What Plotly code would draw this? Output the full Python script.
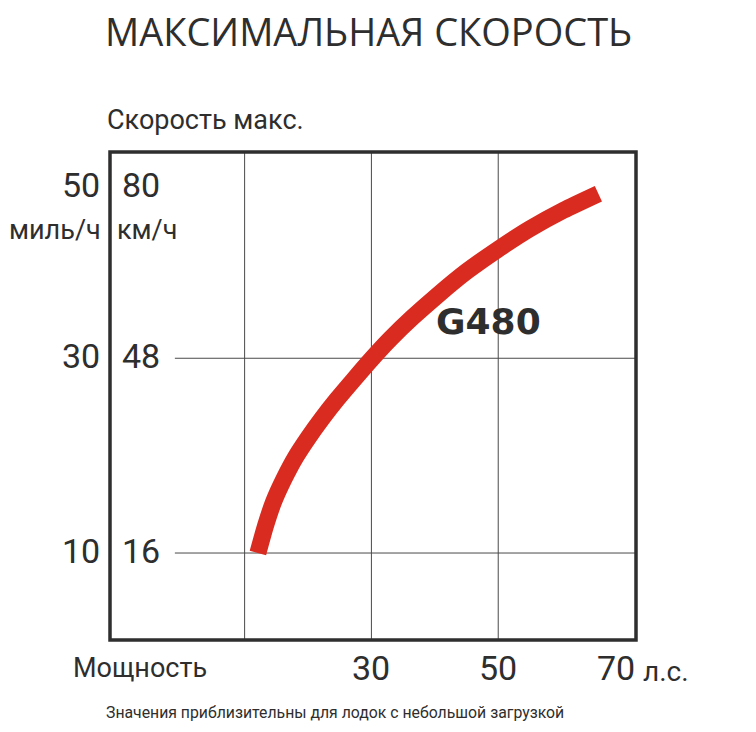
import plotly.graph_objects as go

# ---- data ----
hp = [12.1, 13.3, 14.6, 16.2, 18.0, 20.0, 22.2, 24.6, 27.2, 30.0, 33.0, 36.5, 40.5, 45.0, 50.0, 55.0, 60.3, 65.8]
mph = [10.0, 12.8, 15.3, 17.6, 19.8, 21.8, 23.8, 25.8, 27.8, 29.9, 32.0, 34.2, 36.5, 38.9, 41.2, 43.3, 45.2, 46.9]
series_name = "G480"
mph_ticks = [50, 30, 10]
kmh_ticks = ["80", "48", "16"]
hp_ticks = [30, 50, 70]
hp_grid = [10, 30, 50]
title = "МАКСИМАЛЬНАЯ СКОРОСТЬ"
y_title = "Скорость макс."
mph_unit = "миль/ч"
kmh_unit = "км/ч"
x_title = "Мощность"
x_unit = "л.с."
note = "Значения приблизительны для лодок с небольшой загрузкой"

W, H = 756, 732
BODY = 8  # default page margin of the html body
L, R, T, B = 110, 636, 152, 640  # plot area on screen
XR = [-11.23, 71.73]
YR = [1.07, 51.18]

NARROW = "Roboto, DejaVu Sans Condensed, sans-serif"
DARK = "#2e2e2e"
GRID = "#4a4a4a"


def px(x):
    return (x - L) / (R - L)


def py(y):
    return (B - y) / (B - T)


fig = go.Figure()
fig.add_trace(go.Scatter(x=hp, y=mph, mode="lines",
                         line=dict(color="#d92b20", width=17, shape="spline", smoothing=0.6),
                         showlegend=False, hoverinfo="skip"))

shapes = []
for g in hp_grid:
    shapes.append(dict(type="line", xref="x", yref="paper", x0=g, x1=g, y0=0, y1=1,
                       line=dict(color=GRID, width=1), layer="below"))
for m in mph_ticks[1:]:
    shapes.append(dict(type="line", xref="x", yref="y", x0=-1, x1=XR[1], y0=m, y1=m,
                       line=dict(color=GRID, width=1), layer="below"))
shapes.append(dict(type="rect", xref="paper", yref="paper", x0=0, x1=1, y0=0, y1=1,
                   line=dict(color=DARK, width=3.5)))

ann = []
ann.append(dict(text=title, xref="paper", yref="paper", x=px(368), y=py(31), showarrow=False,
                xanchor="center", yanchor="middle", font=dict(family="Open Sans", size=38, color=DARK)))
ann.append(dict(text=y_title, xref="paper", yref="paper", x=px(105), y=py(120), showarrow=False,
                xanchor="left", yanchor="middle", font=dict(family=NARROW, size=27, color=DARK)))
for i, (m, k) in enumerate(zip(mph_ticks, kmh_ticks)):
    ys = -22 if i == 0 else 2
    ann.append(dict(text=str(m), xref="paper", yref="y", x=px(102), y=m, yshift=ys, showarrow=False,
                    xanchor="right", yanchor="middle", font=dict(family=NARROW, size=34, color=DARK)))
    ann.append(dict(text=k, xref="paper", yref="y", x=px(120), y=m, yshift=ys, showarrow=False,
                    xanchor="left", yanchor="middle", font=dict(family=NARROW, size=34, color=DARK)))
ann.append(dict(text=mph_unit, xref="paper", yref="paper", x=px(103), y=py(230), showarrow=False,
                xanchor="right", yanchor="middle", font=dict(family=NARROW, size=27, color=DARK)))
ann.append(dict(text=kmh_unit, xref="paper", yref="paper", x=px(115), y=py(230), showarrow=False,
                xanchor="left", yanchor="middle", font=dict(family=NARROW, size=27, color=DARK)))
for t in hp_ticks:
    xs = -9 if t == 70 else 0
    ann.append(dict(text=str(t), xref="x", yref="paper", x=t, y=py(668), xshift=xs, showarrow=False,
                    xanchor="center", yanchor="middle", font=dict(family=NARROW, size=34, color=DARK)))
ann.append(dict(text=x_title, xref="paper", yref="paper", x=px(71), y=py(668), showarrow=False,
                xanchor="left", yanchor="middle", font=dict(family=NARROW, size=27, color=DARK)))
ann.append(dict(text=x_unit, xref="paper", yref="paper", x=px(641), y=py(671), showarrow=False,
                xanchor="left", yanchor="middle", font=dict(family=NARROW, size=28, color=DARK)))
ann.append(dict(text=note, xref="paper", yref="paper", x=px(104), y=py(712), showarrow=False,
                xanchor="left", yanchor="middle", font=dict(family=NARROW, size=15.8, color=DARK)))
ann.append(dict(text="<b>" + series_name + "</b>", xref="paper", yref="paper", x=px(488.5), y=py(321),
                showarrow=False, xanchor="center", yanchor="middle",
                font=dict(family="DejaVu Sans", size=36, color=DARK)))

fig.update_layout(
    width=W, height=H,
    margin=dict(l=L - BODY, r=W - (R - L) - (L - BODY), t=T - BODY, b=H - (B - T) - (T - BODY), pad=0),
    paper_bgcolor="white", plot_bgcolor="white",
    xaxis=dict(range=XR, showgrid=False, zeroline=False, showticklabels=False, ticks="", fixedrange=True),
    yaxis=dict(range=YR, showgrid=False, zeroline=False, showticklabels=False, ticks="", fixedrange=True),
    shapes=shapes, annotations=ann,
)
fig.write_html("out.html")
